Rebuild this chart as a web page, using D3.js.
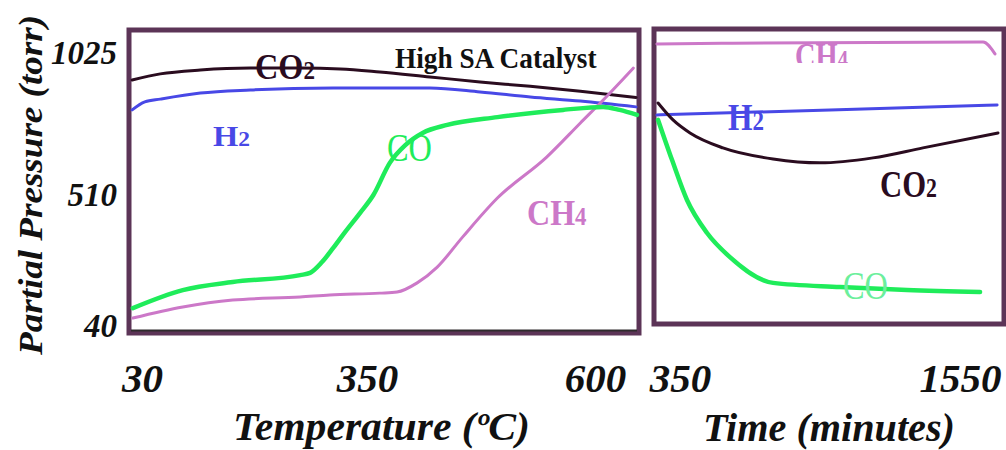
<!DOCTYPE html>
<html>
<head>
<meta charset="utf-8" />
<style>
body {
	margin: 0;
	background: white;
	font-family: "Liberation Serif", "Times New Roman", serif;
}
svg {
	display: block;
}
.tick-label {
	font-weight: bold;
	font-style: italic;
	fill: #111;
}
.axis-title {
	font-weight: bold;
	font-style: italic;
	fill: #111;
}
.frame {
	fill: none;
	stroke: #5c3457;
	stroke-width: 5;
}
.curve {
	fill: none;
	stroke-linejoin: round;
	stroke-linecap: round;
}
</style>
</head>
<body>
<script src="https://d3js.org/d3.v7.min.js"></script>
<script>
// tick labels
var pressureTicks = [40, 510, 1025];
var tempTicks = [30, 350, 600];
var timeTicks = [350, 1550];

// heating run: [temperature (C), partial pressure (torr)]
var heatCO2 = [[16, 924], [56, 946], [113, 960], [184, 967], [255, 967], [312, 964],
    [364, 953], [419, 935], [474, 917], [529, 901], [584, 883], [645, 861]];
var heatH2 = [[16, 816], [34, 845], [56, 855], [113, 877], [184, 888], [302, 895],
    [419, 895], [474, 881], [529, 863], [584, 848], [645, 827]];
var heatCO = [[17, 101], [88, 166], [159, 195], [255, 220], [269, 228], [286, 267],
    [302, 318], [319, 376], [340, 444], [357, 509], [375, 625], [392, 689],
    [411, 733], [438, 762], [493, 790], [565, 816], [609, 827], [627, 816], [646, 798]];
var heatCH4 = [[17, 65], [88, 105], [159, 130], [255, 141], [297, 148], [364, 155],
    [383, 159], [405, 192], [427, 249], [455, 358], [493, 498], [547, 646],
    [584, 769], [609, 852], [642, 967]];

// hold at 350 C: [time (minutes), partial pressure (torr)]
var holdCH4 = [[251, 1054], [577, 1057], [1649, 1061], [1700, 1018]];
var holdH2 = [[251, 798], [993, 816], [1709, 834]];
var holdCO2 = [[256, 841], [320, 780], [393, 733], [534, 679], [749, 639],
    [950, 625], [1177, 643], [1391, 679], [1713, 733]];
var holdCO = [[256, 780], [316, 635], [380, 491], [466, 372], [564, 285],
    [749, 192], [1036, 177], [1323, 166], [1636, 159]];

var width = 1006,
    height = 450;

var svg = d3.select("body").append("svg")
	.attr("width", width)
	.attr("height", height);

var y = d3.scaleLinear().domain([pressureTicks[0], pressureTicks[2]]).range([325, 52]);
var xTemp = d3.scaleLinear().domain(tempTicks).range([142, 367, 595]);
var xTime = d3.scaleLinear().domain(timeTicks).range([680, 960]);

var tempLine = d3.line()
	.x(function(d) { return xTemp(d[0]); })
	.y(function(d) { return y(d[1]); })
	.curve(d3.curveMonotoneX);

var timeLine = d3.line()
	.x(function(d) { return xTime(d[0]); })
	.y(function(d) { return y(d[1]); })
	.curve(d3.curveMonotoneX);

var colors = {CO2: "#2a0c1f", H2: "#4848e6", CO: "#1fec5a", CH4: "#cc78c8"};

// panels
svg.append("rect").attr("class", "frame")
	.attr("x", 129).attr("y", 30).attr("width", 510).attr("height", 303);
svg.append("line")
	.attr("x1", 131).attr("x2", 637).attr("y1", 330.5).attr("y2", 330.5)
	.attr("stroke", "#2e2a2d").attr("stroke-width", 2);
svg.append("rect").attr("class", "frame")
	.attr("x", 654).attr("y", 29).attr("width", 350).attr("height", 295);

// curves
var heatSeries = [[heatCO2, "CO2", 3], [heatH2, "H2", 3], [heatCH4, "CH4", 3], [heatCO, "CO", 4.5]];
var holdSeries = [[holdCH4, "CH4", 3], [holdH2, "H2", 3], [holdCO2, "CO2", 3], [holdCO, "CO", 4.5]];

for (var i = 0; i < heatSeries.length; i++) {
	svg.append("path")
		.attr("class", "curve")
		.attr("d", tempLine(heatSeries[i][0]))
		.attr("stroke", colors[heatSeries[i][1]])
		.attr("stroke-width", heatSeries[i][2]);
}
for (var i = 0; i < holdSeries.length; i++) {
	svg.append("path")
		.attr("class", "curve")
		.attr("d", timeLine(holdSeries[i][0]))
		.attr("stroke", colors[holdSeries[i][1]])
		.attr("stroke-width", holdSeries[i][2]);
}

// squeeze a text to the width it has in the picture
function fitText(t, x, base, w) {
	var natural = t.node().getBBox().width;
	t.attr("transform", "translate(" + x + "," + base + ") scale(" + (w / natural) + ",1)");
}

// curve labels: text, subscript, left x, baseline, width, size, colour, weight
var labels = [
	["CO", "2", 255, 79, 60, 35, colors.CO2, "bold"],
	["High SA Catalyst", "", 395, 68, 202, 29, "#111", "bold"],
	["H", "2", 213, 146, 37, 29, colors.H2, "bold"],
	["CO", "", 387, 161, 45, 40, colors.CO, "normal"],
	["CH", "4", 527, 225, 60, 35, colors.CH4, "bold"],
	["H", "2", 728, 130, 36, 37, colors.H2, "bold"],
	["CO", "2", 880, 197, 57, 38, colors.CO2, "bold"],
	["CO", "", 843, 299, 45, 40, "#6cef9c", "normal"],
	["CH", "4", 795, 68, 53, 36, colors.CH4, "bold"]
];

svg.append("clipPath").attr("id", "cut")
	.append("rect").attr("x", 780).attr("y", 38).attr("width", 90).attr("height", 25);

for (var i = 0; i < labels.length; i++) {
	var l = labels[i];
	var t = svg.append("text")
		.attr("font-size", l[5])
		.attr("font-weight", l[7])
		.attr("fill", l[6])
		.text(l[0]);
	if (l[1] != "") {
		t.append("tspan").attr("font-size", Math.round(l[5] * 0.72)).text(l[1]);
	}
	fitText(t, l[2], l[3], l[4]);
	if (i == labels.length - 1) {
		// the right CH4 label is half hidden in the picture
		var g = svg.append("g").attr("clip-path", "url(#cut)");
		g.node().appendChild(t.node());
	}
}

// axes (labels only)
var yAxis = svg.append("g")
	.attr("transform", "translate(117,0)")
	.call(d3.axisLeft(y).tickValues(pressureTicks).tickFormat(d3.format("d")).tickSize(0).tickPadding(0));
yAxis.select(".domain").remove();
yAxis.attr("font-family", null).attr("font-size", 33);
yAxis.selectAll("text").attr("class", "tick-label").attr("dy", "0.34em");

var tempAxis = svg.append("g")
	.attr("transform", "translate(0,392)")
	.call(d3.axisBottom(xTemp).tickValues(tempTicks).tickFormat(d3.format("d")).tickSize(0).tickPadding(0));
tempAxis.select(".domain").remove();
tempAxis.attr("font-family", null).attr("font-size", 41);
tempAxis.selectAll("text").attr("class", "tick-label").attr("dy", 0);

var timeAxis = svg.append("g")
	.attr("transform", "translate(0,392)")
	.call(d3.axisBottom(xTime).tickValues(timeTicks).tickFormat(d3.format("d")).tickSize(0).tickPadding(0));
timeAxis.select(".domain").remove();
timeAxis.attr("font-family", null).attr("font-size", 41);
timeAxis.selectAll("text").attr("class", "tick-label").attr("dy", 0);

// axis titles
var tt = svg.append("text").attr("class", "axis-title").attr("font-size", 40)
	.text("Temperature (\u00baC)");
fitText(tt, 233, 440, 297);

var mt = svg.append("text").attr("class", "axis-title").attr("font-size", 40)
	.text("Time (minutes)");
fitText(mt, 703, 441, 252);

svg.append("text").attr("class", "axis-title")
	.attr("font-size", 34)
	.attr("transform", "translate(42,355) rotate(-90)")
	.attr("textLength", 340)
	.attr("lengthAdjust", "spacingAndGlyphs")
	.text("Partial Pressure (torr)");
</script>
</body>
</html>
